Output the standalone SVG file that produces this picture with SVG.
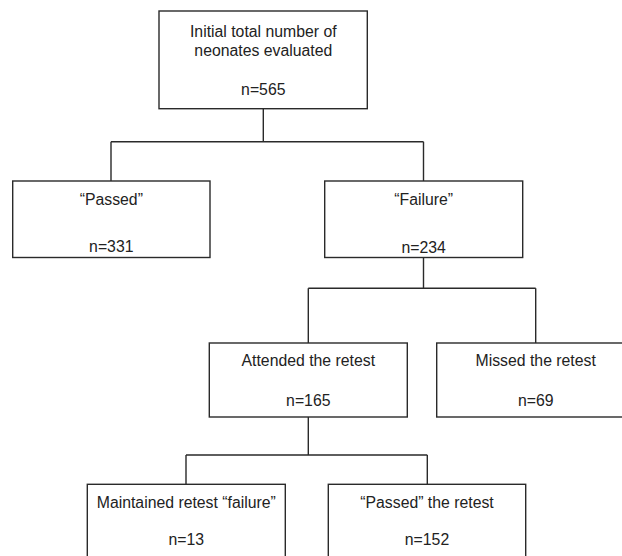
<svg xmlns="http://www.w3.org/2000/svg" width="622" height="556" viewBox="0 0 622 556">
<style>
.box{fill:#fff;stroke:#2a2a2a;stroke-width:1.4}
.lbl{font-family:"Liberation Sans",Arial,sans-serif;font-size:15.8px;fill:#222;text-anchor:middle}
.conn{fill:none;stroke:#2a2a2a;stroke-width:1.4}
</style>
<rect width="622" height="556" fill="#fff"/>
<g id="connectors">
<path class="conn" d="M263.3,108.7V141.7M111,141.7H423.5M111,141.7V181M423.5,141.7V181"/>
<path class="conn" d="M423.5,257.5V288.3M308.3,288.3H535.7M308.3,288.3V343M535.7,288.3V343"/>
<path class="conn" d="M308.3,417V455M186,455H427.3M186,455V484.3M427.3,455V484.3"/>
</g>
<g id="n-initial">
<rect class="box" x="159" y="11" width="208.3" height="97.7"/>
<text class="lbl" x="263.3" y="37">Initial total number of</text>
<text class="lbl" x="263.3" y="55.5">neonates evaluated</text>
<text class="lbl" x="263.3" y="94.5">n=565</text>
</g>
<g id="n-passed">
<rect class="box" x="12.7" y="181" width="197.3" height="76.5"/>
<text class="lbl" x="111.3" y="204.5">“Passed”</text>
<text class="lbl" x="111.3" y="252">n=331</text>
</g>
<g id="n-failure">
<rect class="box" x="324.7" y="181" width="198" height="76.5"/>
<text class="lbl" x="423.7" y="204.5">“Failure”</text>
<text class="lbl" x="423.7" y="252.5">n=234</text>
</g>
<g id="n-attended">
<rect class="box" x="209.3" y="343" width="198" height="74"/>
<text class="lbl" x="308.3" y="366">Attended the retest</text>
<text class="lbl" x="308.3" y="405.5">n=165</text>
</g>
<g id="n-missed">
<rect class="box" x="436.7" y="343" width="198" height="74"/>
<text class="lbl" x="535.7" y="366">Missed the retest</text>
<text class="lbl" x="535.7" y="405.5">n=69</text>
</g>
<g id="n-maintained">
<rect class="box" x="87.3" y="484.3" width="198" height="77"/>
<text class="lbl" x="186.3" y="507.5">Maintained retest “failure”</text>
<text class="lbl" x="186.3" y="545">n=13</text>
</g>
<g id="n-passedretest">
<rect class="box" x="328.3" y="484.3" width="197.4" height="77"/>
<text class="lbl" x="427" y="507.5">“Passed” the retest</text>
<text class="lbl" x="427" y="545">n=152</text>
</g>
</svg>
